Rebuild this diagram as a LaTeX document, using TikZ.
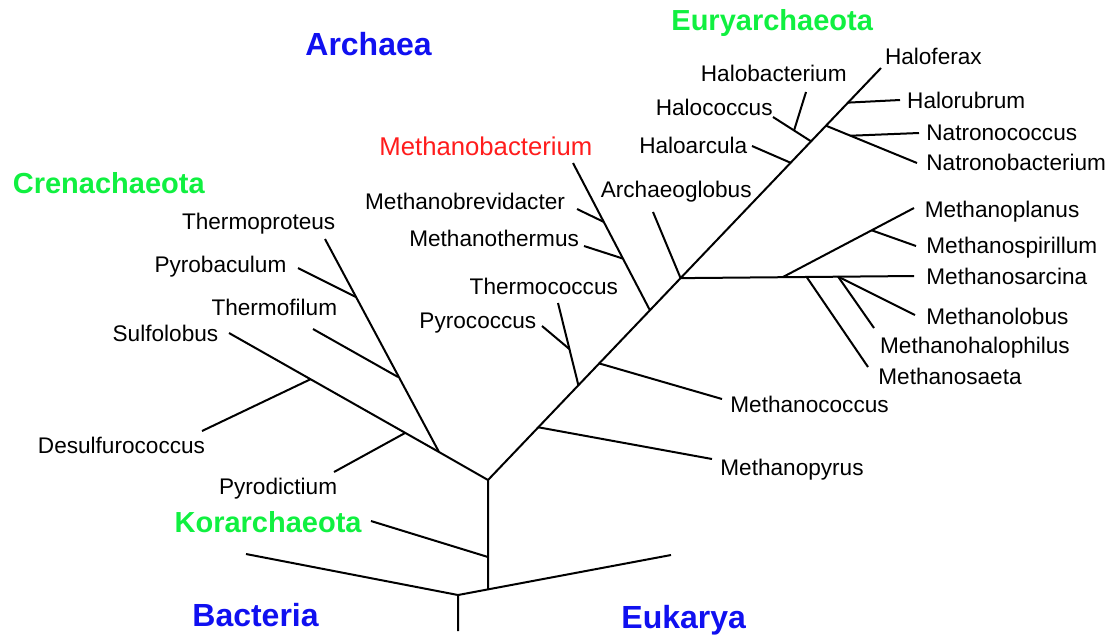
\documentclass[tikz,border=0pt]{standalone}
\usepackage{fontspec}
\setmainfont{Liberation Sans}
\usetikzlibrary{calc}
\definecolor{domBlue}{HTML}{1010F0}
\definecolor{phyGreen}{HTML}{10F040}
\definecolor{hiRed}{HTML}{FF1C1C}

\begin{document}
\begin{tikzpicture}[
  x=0.5pt, y=-0.5pt,
  branch/.style={line width=1pt},
  taxon/.style={inner sep=0pt, font=\fontsize{11.3}{13}\selectfont},
  tR/.style={taxon, anchor=base west},
  tL/.style={taxon, anchor=base east},
  phylum/.style={inner sep=0pt, font=\fontsize{14.5}{17}\selectfont\bfseries, text=phyGreen},
  domname/.style={inner sep=0pt, font=\fontsize{16}{19}\selectfont\bfseries, text=domBlue, anchor=base west},
]
\useasboundingbox (0,0) rectangle (1112,634);

% =====================================================================
% ROOT : Bacteria / Eukarya / Archaea
% =====================================================================
\coordinate (rootB) at (458,631);
\coordinate (split) at (458,595);
\coordinate (bactT) at (246,554);
\coordinate (eukT)  at (671,555);
\coordinate (trunk) at ($(split)!0.141!(eukT)$);
\coordinate (archJ) at (488,480);
\coordinate (korJ)  at (488,557);
\coordinate (korT)  at (371,521);
\draw[branch] (rootB) -- (split) -- (bactT);
\draw[branch] (split) -- (eukT);
\draw[branch] (trunk) -- (archJ);
\draw[branch] (korJ) -- (korT);

\node[domname] (bact) at (192,626.5){Bacteria};
\node[domname] (euk)  at (621,628){Eukarya};
\node[domname] (arch) at (305,55.5){Archaea};
\node[phylum, anchor=base east] (kor) at (362,532){Korarchaeota};

% =====================================================================
% CRENARCHAEOTA
% =====================================================================
\coordinate (crenJ) at (439,452);
\coordinate (sulT)  at (229,333);
\coordinate (pdJ)   at (405,433);
\coordinate (pdT)   at (334,472);
\coordinate (deJ)   at (311,379);
\coordinate (deT)   at (202,431);
\coordinate (tpT)   at (325,239);
\coordinate (tfJ)   at (398,377);
\coordinate (tfT)   at (313,329);
\coordinate (pbJ)   at (356,297);
\coordinate (pbT)   at (298,268);
\draw[branch] (archJ) -- (crenJ) -- (sulT);
\draw[branch] (crenJ) -- (tpT);
\draw[branch] (pdJ) -- (pdT);
\draw[branch] (deJ) -- (deT);
\draw[branch] (tfJ) -- (tfT);
\draw[branch] (pbJ) -- (pbT);

\node[phylum, anchor=base west] (cren) at (12.5,193.5){Crenachaeota};
\node[tL] (tp) at (335.7,229){Thermoproteus};
\node[tL] (pb) at (286.8,272){Pyrobaculum};
\node[tL] (tf) at (337.5,315.7){Thermofilum};
\node[tL] (sul) at (218.6,341.3){Sulfolobus};
\node[tL] (de) at (205.4,453){Desulfurococcus};
\node[tL] (pd) at (337.5,494.7){Pyrodictium};

% =====================================================================
% EURYARCHAEOTA : main stem up to Haloferax
% =====================================================================
\coordinate (hfT) at (881,68);
\draw[branch] (archJ) -- (hfT);
\coordinate (mpyJ) at ($(archJ)!0.128!(hfT)$);
\coordinate (tcJ)  at ($(archJ)!0.230!(hfT)$);
\coordinate (mcoJ) at ($(archJ)!0.283!(hfT)$);
\coordinate (mbJ)  at ($(archJ)!0.412!(hfT)$);
\coordinate (agJ)  at ($(archJ)!0.490!(hfT)$);
\coordinate (haJ)  at ($(archJ)!0.770!(hfT)$);
\coordinate (hcJ)  at ($(archJ)!0.822!(hfT)$);
\coordinate (naJ)  at ($(archJ)!0.860!(hfT)$);
\coordinate (hrJ)  at ($(archJ)!0.916!(hfT)$);

\node[phylum, anchor=base west] (eury) at (671,30.5){Euryarchaeota};

% Methanopyrus, Methanococcus
\coordinate (mpyT) at (712,459);
\coordinate (mcoT) at (722,399);
\draw[branch] (mpyJ) -- (mpyT);
\draw[branch] (mcoJ) -- (mcoT);
\node[tR] (mpy) at (720,475.3){Methanopyrus};
\node[tR] (mco) at (730,412){Methanococcus};

% Thermococcus, Pyrococcus
\coordinate (tcT) at (558,303);
\coordinate (pcJ) at ($(tcJ)!0.44!(tcT)$);
\coordinate (pcT) at (542,326);
\draw[branch] (tcJ) -- (tcT);
\draw[branch] (pcJ) -- (pcT);
\node[tL] (tc) at (618.3,294.7){Thermococcus};
\node[tL] (pc) at (536.7,328){Pyrococcus};

% Methanobacterium group
\coordinate (mbT) at (573,163);
\coordinate (mtJ) at ($(mbJ)!0.351!(mbT)$);
\coordinate (mtT) at (584,246);
\coordinate (mvJ) at ($(mbJ)!0.60!(mbT)$);
\coordinate (mvT) at (577,209);
\draw[branch] (mbJ) -- (mbT);
\draw[branch] (mtJ) -- (mtT);
\draw[branch] (mvJ) -- (mvT);
\node[taxon, anchor=base east, font=\fontsize{12.85}{15}\selectfont, text=hiRed] (mb) at (592.7,155.8){Methanobacterium};
\node[tL] (mv) at (565.3,209){Methanobrevidacter};
\node[tL] (mt) at (579.3,246.3){Methanothermus};

% Archaeoglobus
\coordinate (agT) at (653,212);
\draw[branch] (agJ) -- (agT);
\node[tL] (ag) at (752,197.3){Archaeoglobus};

% Methanosarcina group
\coordinate (msT) at (914,276);
\coordinate (mplJ) at ($(agJ)!0.437!(msT)$);
\coordinate (mplT) at (914,208);
\coordinate (mspJ) at ($(mplJ)!0.678!(mplT)$);
\coordinate (mspT) at (916,246);
\coordinate (msaJ) at ($(agJ)!0.54!(msT)$);
\coordinate (msaT) at (868,367);
\coordinate (mhJ)  at ($(agJ)!0.675!(msT)$);
\coordinate (mhT)  at (874,328);
\coordinate (mloT) at (915,315);
\draw[branch] (agJ) -- (msT);
\draw[branch] (mplJ) -- (mplT);
\draw[branch] (mspJ) -- (mspT);
\draw[branch] (msaJ) -- (msaT);
\draw[branch] (mhJ) -- (mhT);
\draw[branch] (mhJ) -- (mloT);
\node[tR] (mpl) at (924.4,217.3){Methanoplanus};
\node[tR] (msp) at (926,253){Methanospirillum};
\node[tR] (ms)  at (926,284){Methanosarcina};
\node[tR] (mlo) at (926,324.7){Methanolobus};
\node[tR] (mh)  at (879.7,353){Methanohalophilus};
\node[tR] (msa) at (878,384){Methanosaeta};

% Halophiles
\coordinate (haT) at (752,146);
\coordinate (hcT) at (773,117);
\coordinate (hbJ) at ($(hcJ)!0.447!(hcT)$);
\coordinate (hbT) at (806,92);
\coordinate (nbT) at (917,163);
\coordinate (ncJ) at ($(naJ)!0.269!(nbT)$);
\coordinate (ncT) at (919,133);
\coordinate (hrT) at (900,100);
\draw[branch] (haJ) -- (haT);
\draw[branch] (hcJ) -- (hcT);
\draw[branch] (hbJ) -- (hbT);
\draw[branch] (naJ) -- (nbT);
\draw[branch] (ncJ) -- (ncT);
\draw[branch] (hrJ) -- (hrT);
\node[tR] (hf) at (884.6,64){Haloferax};
\node[tL] (hb) at (847,81.3){Halobacterium};
\node[tR] (hr) at (906.8,108){Halorubrum};
\node[tL] (hc) at (773,115.3){Halococcus};
\node[tR] (nc) at (926,140.3){Natronococcus};
\node[tL] (ha) at (747.7,153.7){Haloarcula};
\node[tR] (nb) at (926,170.3){Natronobacterium};

\end{tikzpicture}
\end{document}
